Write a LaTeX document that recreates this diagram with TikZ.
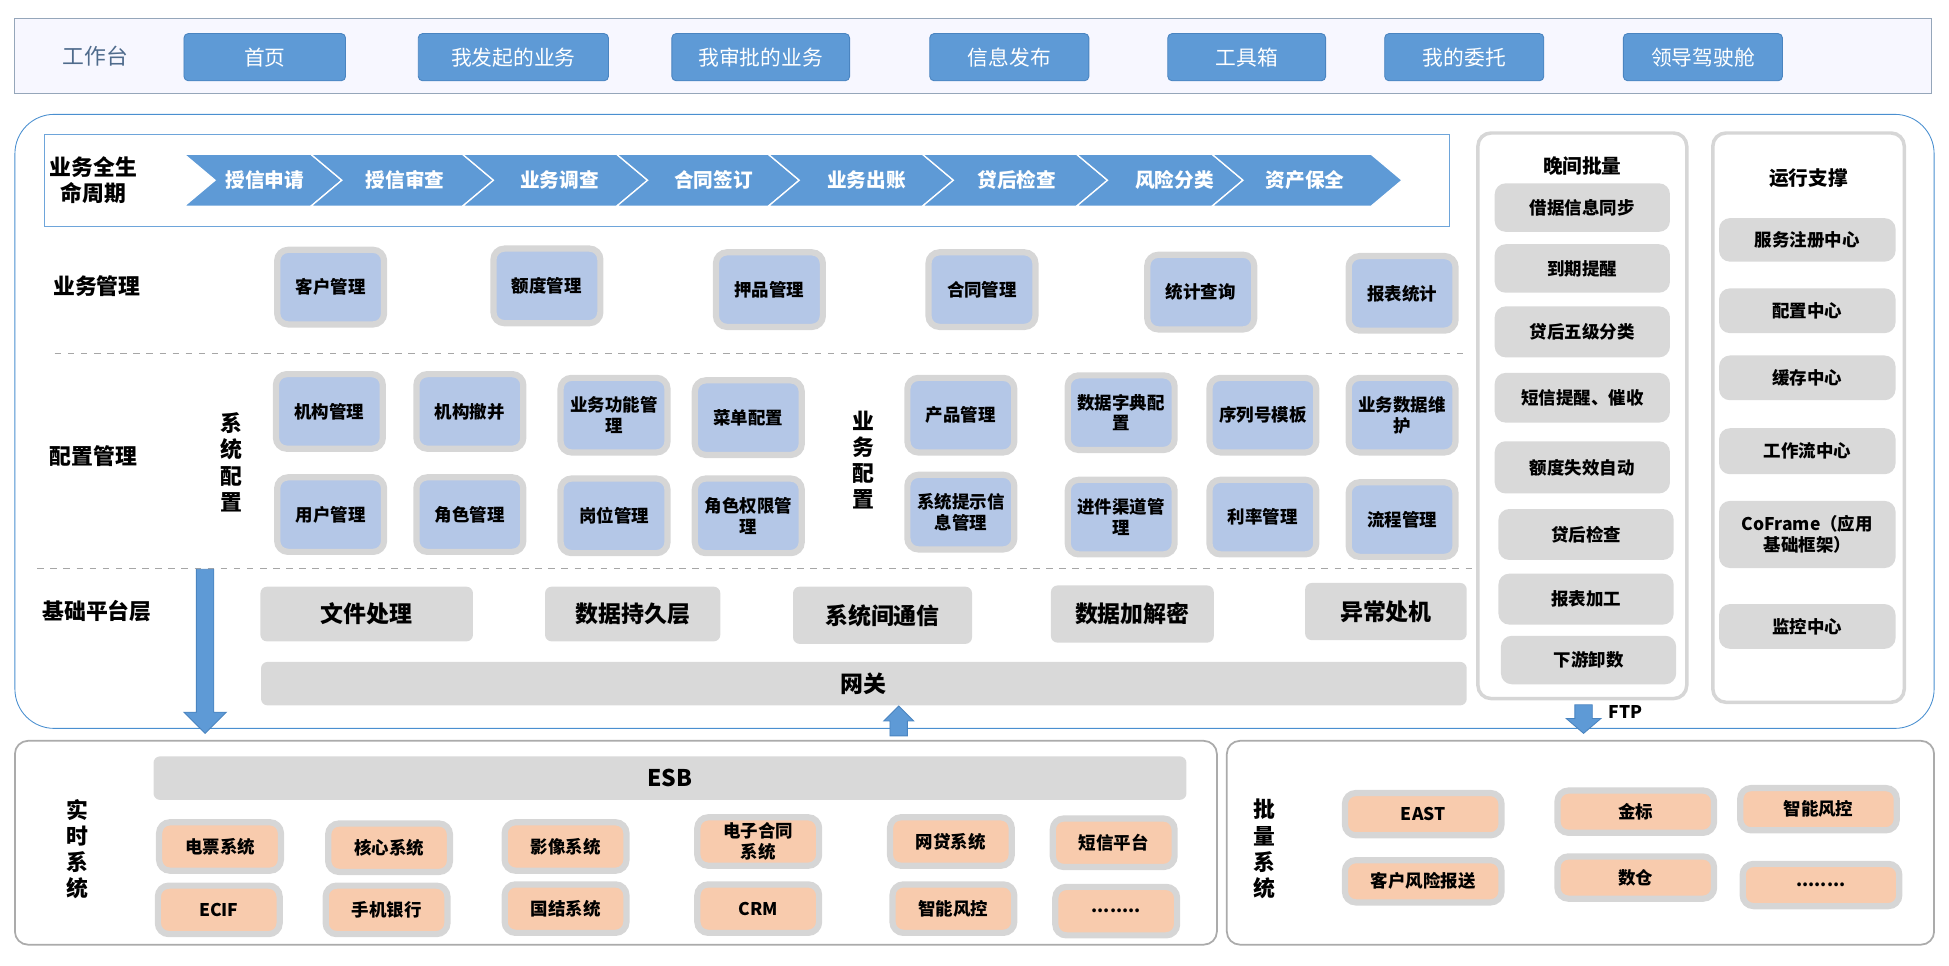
\documentclass[tikz,border=0pt]{standalone}
\usepackage{fontspec}
\setmainfont{Noto Sans CJK SC}
\usetikzlibrary{positioning}

\definecolor{btn}{HTML}{5E9AD6}
\definecolor{btnline}{HTML}{4A84C0}
\definecolor{frame}{HTML}{4A8FD0}
\definecolor{band}{HTML}{D6D6D6}
\definecolor{lav}{HTML}{B4C7E7}
\definecolor{peach}{HTML}{F8CBAD}
\definecolor{barg}{HTML}{D9D9D9}
\definecolor{title}{HTML}{4F6B8C}

\tikzset{
  btn/.style={fill=btn,draw=btnline,rounded corners=2pt,text=white,font=\fontsize{9.5}{11}\selectfont},
  cfg/.style={fill=lav,draw=band,line width=0.1cm,rounded corners=5pt,align=center,inner sep=1pt,font=\fontsize{8}{9.5}\selectfont\bfseries},
  ext/.style={cfg,fill=peach},
  job/.style={fill=barg,draw=none,rounded corners=5pt,align=center,font=\fontsize{8}{9.5}\selectfont\bfseries},
  base/.style={fill=barg,draw=none,rounded corners=3pt,font=\fontsize{10.5}{12}\selectfont\bfseries},
  lbl/.style={font=\fontsize{10}{12}\selectfont\bfseries,align=center},
  vlbl/.style={lbl,inner sep=0pt},
  stage/.style={text=white,font=\fontsize{9}{11}\selectfont\bfseries},
  bigarrow/.style={fill=btn,draw=btnline,line width=0.4pt}
}
\newcommand\bx[7]{\node[#1,minimum width=#5*0.02cm,minimum height=#6*0.02cm] (#2) at (#3,#4) {#7};}

\begin{document}
\begin{tikzpicture}[x=0.02cm,y=-0.02cm]
    \useasboundingbox (0,0) rectangle (1568,777);

    % work bench
    \begin{scope}
      \draw[draw=title!60,fill=blue!3] (12,15) rectangle (1554,75);
      \node[text=title,font=\fontsize{10}{12}\selectfont] (bench) at (77,45) {工作台};
      \foreach \n/\x/\w/\t in {home/213/130/首页, mine/413/153/我发起的业务, appr/612/143/我审批的业务,
                              info/812/128/信息发布, tool/1003/127/工具箱, dele/1178/128/我的委托, lead/1370/128/领导驾驶舱}{
          \bx{btn}{\n}{\x}{46}{\w}{38}{\t}
       }
    \end{scope}

    % main platform
    \draw[frame,rounded corners=18pt] (12,92) rectangle (1556,586);

    \begin{scope}
      \draw[frame!80,line width=0.5pt] (36,108) rectangle (1166,182);
      \node[lbl] (life) at (75,145) {业务全生\\命周期};
      \foreach \a/\b in {148/250,250/372,372/496,496/618,618/742,742/866,866/975}{
          \draw[fill=btn,draw=white,line width=0.6pt] (\a,124) -- (\b,124) -- (\b+25,145) -- (\b,166) -- (\a,166) -- (\a+25,145) -- cycle;
       }
      \draw[fill=btn,draw=white,line width=0.6pt] (975,124) -- (1103,124) -- (1128,145) -- (1103,166) -- (975,166) -- (1000,145) -- cycle;
      \foreach \n/\x/\t in {s1/213/授信申请, s2/326/授信审查, s3/450/业务调查, s4/574/合同签订,
                            s5/697/业务出账, s6/818/贷后检查, s7/945/风险分类, s8/1050/资产保全}{
          \node[stage] (\n) at (\x,145) {\t};
       }
    \end{scope}

    % business management
    \node[lbl] (bizmgr) at (78,230) {业务管理};
    \foreach \n/\x/\y/\t in {cust/266/231/客户管理, quota/440/230/额度管理, coll/619/233/押品管理,
                            cont/790/233/合同管理, stat/966/235/统计查询, rep/1128/236/报表统计}{
        \bx{cfg}{\n}{\x}{\y}{86}{60}{\t}
     }
    \draw[dashed,gray!70] (44,284) -- (1180,284);

    % configuration
    \node[lbl] (cfgmgr) at (75,367) {配置管理};
    \node[vlbl] (syscfg) at (186,372) {系\\统\\配\\置};
    \node[vlbl] (bizcfg) at (695,370) {业\\务\\配\\置};
    \foreach \n/\x/\y/\t in {org/265/331/机构管理, merge/378/331/机构撤并, func/494/334/{业务功能管\\理}, menu/602/336/菜单配置,
                            user/266/414/用户管理, role/378/414/角色管理, post/494/415/岗位管理, perm/602/415/{角色权限管\\理},
                            prod/773/334/产品管理, dict/902/332/{数据字典配\\置}, seq/1016/334/序列号模板, data/1128/334/{业务数据维\\护},
                            tip/773/412/{系统提示信\\息管理}, chan/902/416/{进件渠道管\\理}, rate/1016/416/利率管理, flow/1128/418/流程管理}{
        \bx{cfg}{\n}{\x}{\y}{86}{60}{\t}
     }
    \draw[dashed,gray!70] (30,457) -- (1185,457);

    % base platform
    \node[lbl] (baselyr) at (78,492) {基础平台层};
    \bx{base}{file}{295}{494}{171}{44}{文件处理}
    \bx{base}{pers}{509}{494}{141}{44}{数据持久层}
    \bx{base}{comm}{710}{495}{144}{46}{系统间通信}
    \bx{base}{cryp}{911}{494}{131}{46}{数据加解密}
    \bx{base}{exc}{1115}{492}{130}{46}{异常处机}
    \bx{base}{gate}{695}{550}{970}{35}{网关}

    % night batch
    \begin{scope}
      \draw[band,line width=1.6pt,fill=white,rounded corners=6pt] (1189,107) rectangle (1357,562);
      \node[lbl,font=\fontsize{9}{11}\selectfont\bfseries] (night) at (1273,134) {晚间批量};
      \foreach \n/\x/\y/\h/\t in {j1/1273/167/39/借据信息同步, j2/1273/216/39/到期提醒, j3/1273/267/41/贷后五级分类,
                                 j4/1273/320/40/{短信提醒、催收}, j5/1273/376/42/额度失效自动, j6/1276/430/41/贷后检查,
                                 j7/1276/482/41/报表加工, j8/1278/531/39/下游卸数}{
          \bx{job}{\n}{\x}{\y}{141}{\h}{\t}
       }
    \end{scope}

    % runtime support
    \begin{scope}
      \draw[band,line width=1.6pt,fill=white,rounded corners=6pt] (1378,107) rectangle (1532,565);
      \node[lbl,font=\fontsize{9}{11}\selectfont\bfseries] (run) at (1455,143) {运行支撑};
      \foreach \n/\y/\h/\t in {r1/193/35/服务注册中心, r2/250/36/配置中心, r3/304/36/缓存中心,
                               r4/363/37/工作流中心, r5/430/54/{CoFrame（应用\\基础框架）}, r6/504/36/监控中心}{
          \bx{job}{\n}{1454}{\y}{142}{\h}{\t}
       }
    \end{scope}

    % arrows
    \draw[bigarrow] (158,458) -- (172,458) -- (172,573) -- (182,573) -- (165,590) -- (148,573) -- (158,573) -- cycle;
    \draw[bigarrow] (716,592) -- (730,592) -- (730,580) -- (735,580) -- (723,568) -- (711,580) -- (716,580) -- cycle;
    \draw[bigarrow] (1267,567) -- (1281,567) -- (1281,578) -- (1288,578) -- (1274,590) -- (1260,578) -- (1267,578) -- cycle;
    \node[font=\fontsize{8}{9}\selectfont\bfseries] (ftp) at (1308,573) {FTP};

    % realtime systems
    \begin{scope}
      \draw[band!80!black,line width=0.8pt,rounded corners=6pt] (12,596) rectangle (979,760);
      \bx{base}{esb}{539}{626}{831}{35}{ESB}
      \node[vlbl] (rt) at (62,683) {实\\时\\系\\统};
      \foreach \n/\x/\y/\t in {bill/177/681/电票系统, core/313/682/核心系统, img/455/681/影像系统, econ/610/677/{电子合同\\系统},
                              loan/765/677/网贷系统, sms/896/678/短信平台,
                              ecif/176/732/ECIF, mob/311/732/手机银行, intl/455/731/国结系统, crm/610/731/CRM,
                              risk/767/731/智能风控, more/898/733/{........}}{
          \bx{ext}{\n}{\x}{\y}{98}{39}{\t}
       }
    \end{scope}

    % batch systems
    \begin{scope}
      \draw[band!80!black,line width=0.8pt,rounded corners=6pt] (987,596) rectangle (1556,760);
      \node[vlbl] (bt) at (1017,683) {批\\量\\系\\统};
      \foreach \n/\x/\y/\t in {east/1145/655/EAST, gold/1316/653/金标, brisk/1463/651/智能风控,
                              crr/1145/709/客户风险报送, dw/1316/706/数仓, bmore/1465/712/{........}}{
          \bx{ext}{\n}{\x}{\y}{126}{34}{\t}
       }
    \end{scope}
\end{tikzpicture}
\end{document}
